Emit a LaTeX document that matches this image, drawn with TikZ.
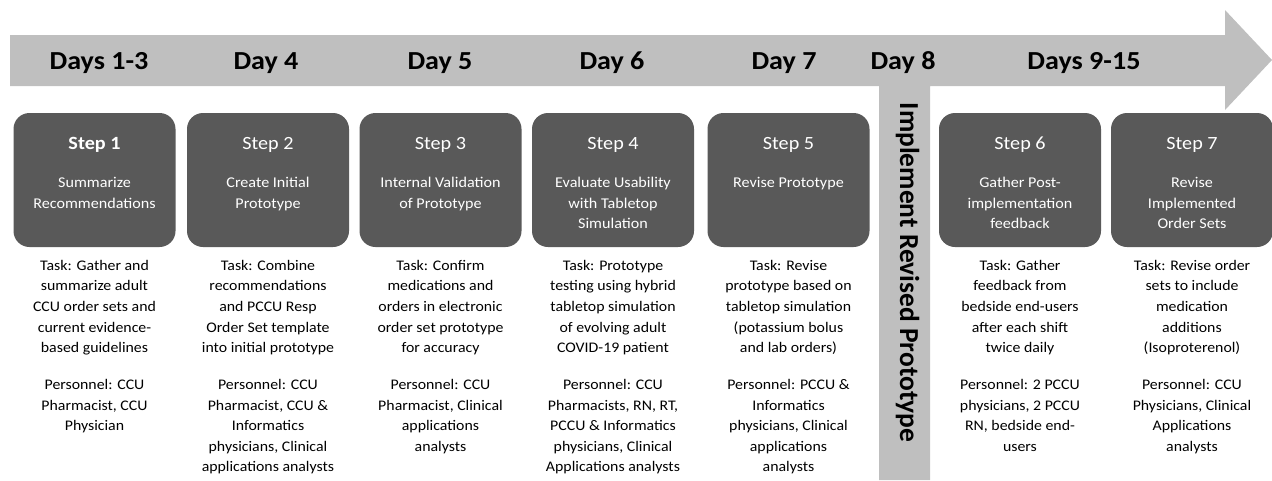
\documentclass[tikz,border=0pt]{standalone}
\usepackage{fontspec}
\setmainfont{Carlito}[FakeStretch=1.08]
\newfontfamily\barfont{Carlito}

\usetikzlibrary{calc}

\definecolor{bandgray}{RGB}{191,191,191}
\definecolor{boxgray}{RGB}{89,89,89}

\begin{document}
\begin{tikzpicture}
  [x=0.75pt, y=-0.75pt,
   daylabel/.style={anchor=base, font=\fontsize{19.5}{23}\selectfont\bfseries},
   stepbox/.style={fill=boxgray, rounded corners=12pt, minimum width=121.5pt,
     minimum height=100.5pt, inner sep=0pt},
   steptitle/.style={anchor=base, text=white, font=\fontsize{14}{17}\selectfont},
   stepaim/.style={anchor=north, align=center, text=white, inner sep=0pt,
     font=\fontsize{11.2}{15.4}\selectfont},
   tasktext/.style={anchor=north, align=center, inner sep=0pt,
     font=\fontsize{11}{15.4}\selectfont}]
  \useasboundingbox (0,0) rectangle (1272,480);
  % timeline arrow and day 8 bar
  \fill[bandgray] (10,35) -- (1225,35) -- (1225,10) -- (1272,60) -- (1225,110)
    -- (1225,86) -- (930,86) -- (930,480) -- (879,480) -- (879,86) -- (10,86) -- cycle;
  \foreach \n/\x/\day in {1/99/Days 1-3, 2/266/Day 4, 3/440/Day 5, 4/612/Day 6,
      5/784/Day 7, 6/903/Day 8, 7/1084/Days 9-15} {
      \node[daylabel] (day\n) at (\x,69) {\day};
  }
  \node[anchor=base, rotate=-90, font=\barfont\fontsize{20.6}{24}\selectfont\bfseries]
    (implement) at (900,272.5) {Implement Revised Prototype};
  % steps
  \foreach \n/\x/\title/\aim in {
      1/94.5/{\textbf{Step 1}}/{Summarize\\Recommendations},
      2/268/{Step 2}/{Create Initial\\Prototype},
      3/440.5/{Step 3}/{Internal Validation\\of Prototype},
      4/613/{Step 4}/{Evaluate Usability\\with Tabletop\\Simulation},
      5/788.5/{Step 5}/{Revise Prototype},
      6/1020/{Step 6}/{Gather Post-\\implementation\\feedback},
      7/1192/{Step 7}/{Revise\\Implemented\\Order Sets}} {
      \node[stepbox] (step\n) at (\x,180) {};
      \node[steptitle] (title\n) at (\x,149) {\title};
      \node[stepaim] (aim\n) at (\x,177) {\aim};
  }
  % tasks and personnel
  \foreach \n/\x/\task in {
      1/94.5/{Task: Gather and\\summarize adult\\CCU order sets and\\current evidence-\\based guidelines\\[12.4pt]
        Personnel: CCU\\Pharmacist, CCU\\Physician},
      2/268/{Task: Combine\\recommendations\\and PCCU Resp\\Order Set template\\into initial prototype\\[12.4pt]
        Personnel: CCU\\Pharmacist, CCU \&\\Informatics\\physicians, Clinical\\applications analysts},
      3/440.5/{Task: Confirm\\medications and\\orders in electronic\\order set prototype\\for accuracy\\[12.4pt]
        Personnel: CCU\\Pharmacist, Clinical\\applications\\analysts},
      4/613/{Task: Prototype\\testing using hybrid\\tabletop simulation\\of evolving adult\\COVID-19 patient\\[12.4pt]
        Personnel: CCU\\Pharmacists, RN, RT,\\PCCU \& Informatics\\physicians, Clinical\\Applications analysts},
      5/788.5/{Task: Revise\\prototype based on\\tabletop simulation\\(potassium bolus\\and lab orders)\\[12.4pt]
        Personnel: PCCU \&\\Informatics\\physicians, Clinical\\applications\\analysts},
      6/1020/{Task: Gather\\feedback from\\bedside end-users\\after each shift\\twice daily\\[12.4pt]
        Personnel: 2 PCCU\\physicians, 2 PCCU\\RN, bedside end-\\users},
      7/1192/{Task: Revise order\\sets to include\\medication\\additions\\(Isoproterenol)\\[12.4pt]
        Personnel: CCU\\Physicians, Clinical\\Applications\\analysts}} {
      \node[tasktext] (task\n) at (\x,260) {\task};
  }
\end{tikzpicture}
\end{document}
